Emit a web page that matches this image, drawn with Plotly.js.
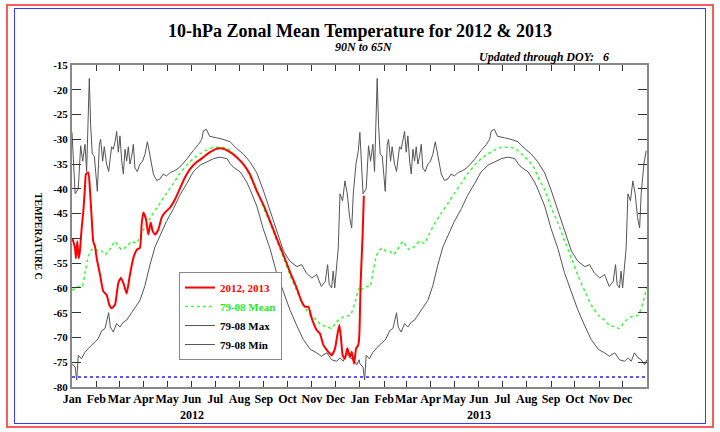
<!DOCTYPE html>
<html>
<head>
<meta charset="utf-8">
<script src="https://cdn.plot.ly/plotly-3.0.1.min.js"></script>
<style>
  html, body { margin: 0; padding: 0; background: #fff; }
  #wrap { position: relative; width: 720px; height: 432px; }
  #chart { position: absolute; left: 0; top: 0; width: 720px; height: 432px; }
  .frame { position: absolute; pointer-events: none; box-sizing: border-box; }
</style>
</head>
<body>
<div id="wrap">
  <div id="chart"></div>
  <div class="frame" style="left:6px; top:4px; width:708px; height:424px; border:2px solid #ff5a5a;"></div>
  <div class="frame" style="left:14px; top:8px; width:692px; height:416px; border:1px solid #3838ff;"></div>
</div>
<script>
// day index counted from 1 Jan 2012 (2012 is a leap year, so 1 Jan 2013 = 366)
var months = ['Jan', 'Feb', 'Mar', 'Apr', 'May', 'Jun', 'Jul', 'Aug', 'Sep', 'Oct', 'Nov', 'Dec'];
var monthStart2012 = [0, 31, 60, 91, 121, 152, 182, 213, 244, 274, 305, 335];
var monthStart2013 = [366, 397, 425, 456, 486, 517, 547, 578, 609, 639, 670, 700];
var yearLabels = ['2012', '2013'];
var yearLabelDay = [152, 517];
var yTickVals = [-80, -75, -70, -65, -60, -55, -50, -45, -40, -35, -30, -25, -20, -15];
var pscLine = -78;

// 1979-2008 climatology, by day of year
var maxDoy = [0, 4, 8, 11, 13.6, 16.5, 18.6, 22, 23.7, 25.8, 28.4, 32.2, 34.8, 36.4, 39, 41, 44, 46.6,
  50.4, 52.5, 54.7, 56.8, 58.9, 61, 63.2, 65.3, 67.4, 69.5, 71.6, 73.7, 75.9, 78, 80, 83, 86.4, 89.8,
  92.8, 95.8, 97.9, 100, 103.4, 107.6, 112, 116, 120, 125, 131, 137, 146, 154, 161, 165, 167, 171,
  175, 184, 192, 201, 209, 218, 226, 235, 243, 252, 260, 269, 277, 286, 292, 298, 305, 311, 317, 322,
  325, 327, 330, 332, 334, 336.5, 338.5, 340.7, 344, 347, 350, 353, 355.6, 357.6, 361, 364];
var maxVal = [-28.6, -41, -40, -31.3, -34.4, -31, -36.5, -17.7, -27, -33, -33.4, -40.5, -31, -30, -34.4, -31.5, -35, -36.5,
  -31.5, -32, -30.5, -28.4, -32.6, -29.3, -34.4, -37, -32, -34.4, -31.5, -35, -33.4, -31, -35.8, -36.5, -35, -34.4,
  -33, -30.5, -32.2, -34.4, -37, -38.3, -38, -37, -37.4, -36.7, -36.3, -35.6, -34, -32.3, -31, -30, -28.3, -28,
  -29.4, -29.7, -30, -30.5, -31.8, -33, -34.5, -36.8, -40.2, -44.5, -48.5, -52.6, -54.6, -55.7, -55.3, -57, -58, -57.3, -59.7, -58.7,
  -55.3, -59.3, -60, -56.6, -60, -54.6, -51.9, -41, -42.4, -38.4, -41, -45.8, -47.9, -41, -35, -32.3];

var meanDoy = [0, 8, 13, 16.5, 20.8, 25, 29, 33, 38, 42, 46.6, 50.4, 54.7, 58.9, 63.2, 69.5, 75.9, 82, 88.5,
  95, 103.4, 112, 120, 129, 137, 146, 154, 163, 171, 180, 188, 197, 205, 214, 222, 226, 235, 243, 252,
  260, 269, 277, 286, 294, 303, 311, 317, 324, 330, 336, 345, 354, 360, 365];
var meanVal = [-60.5, -59.7, -59.7, -57, -53.6, -52.3, -52, -52.6, -52.6, -53.3, -52.6, -51.6, -50.6, -51.6, -52.3, -51.6, -50.6, -51, -49,
  -47, -44.9, -42.9, -40.9, -38.9, -36.9, -35.2, -33.9, -32.9, -32.2, -31.6, -31.6, -31.8, -32.9, -34.2, -35.9, -37.5, -40.2, -43.7, -47,
  -50.4, -54, -57.4, -60.7, -63.4, -65.5, -66.5, -67.5, -67.8, -68.2, -66.9, -65.8, -65.5, -62.8, -60];

var minDoy = [0, 4, 6, 8, 12, 16.5, 20.8, 25, 29, 33, 38, 42, 46.6, 48.7, 52.5, 56.8, 61, 65.3, 69.5, 73.7,
  80, 86.4, 92.8, 99, 105.6, 112, 120, 129, 137, 146, 154, 163, 171, 180, 188, 197, 201, 205, 214, 222,
  226, 235, 243, 252, 260, 269, 277, 286, 294, 303, 311, 317, 324, 330, 336.5, 341, 345, 349, 353.6, 357.6, 362, 365];
var minVal = [-75.3, -76, -78.6, -73.6, -74.3, -73, -72.2, -71.5, -71, -70.3, -68.6, -68.2, -65, -67.9, -68.9, -67.2, -67.9, -66.9, -66.5, -65.5,
  -64.2, -62.5, -59.5, -55.4, -51.7, -49.3, -46.6, -44, -41.3, -38.9, -36.6, -35.2, -34.6, -33.9, -33.6, -33.9, -34.9, -35.6, -36.6, -38.6,
  -40, -43.5, -48, -52.2, -56.9, -61, -64.4, -67.7, -70.4, -72.4, -73.1, -73.8, -73.1, -74.5, -74.8, -74.1, -74.8, -73.1, -74.1, -74.5, -75.5, -74.5];

// 2012 and early 2013 observations
var obsDay = [0.4, 3.8, 5, 6.7, 8.5, 10, 12.3, 14.4, 16.5, 17.8, 20.7, 22.9, 25, 27, 29.2, 31.4, 35.6, 39.8, 44,
  47.4, 50.5, 54.7, 58.9, 62.3, 66.1, 69.5, 73.7, 77.9, 82.3, 86.4, 88.5, 90.6, 94, 97, 100, 102.5, 105.5,
  109.8, 114, 118, 124.6, 131, 137, 143.6, 150, 158.5, 167, 175.5, 184, 192.4, 201, 209.3, 217.8, 226,
  234.8, 243, 251.7, 260, 268.7, 277, 285.6, 292, 296.3, 300.5, 304.7, 311, 315.2, 319.5, 325.8, 330,
  334.4, 337.3, 339.9, 342, 344.1, 347, 350, 353.6, 355.6, 358.6, 361.2, 364, 365.3, 367, 369.5, 371];
var obsVal = [-50, -51.9, -54, -50.6, -54, -52.6, -47.9, -44.5, -39.7, -37, -36.7, -40.4, -45.8, -50.6, -51.6, -54, -57.3, -60.7, -61.4,
  -63.4, -64.1, -63.4, -59, -58, -59.4, -61.1, -57.3, -54, -52.3, -51.9, -47.2, -44.8, -46.1, -49.2, -46.8, -48.5, -49.2,
  -48.2, -45.8, -44.8, -43.8, -42.1, -40, -37.7, -36, -34.6, -33.6, -32.6, -31.9, -31.9, -32.6, -33.6, -35, -37,
  -40.4, -43.1, -46.5, -49.9, -53.3, -56.7, -60, -62.8, -63.8, -63.8, -66.1, -68.5, -69.2, -71.5, -72.9, -73.6,
  -72.2, -69.5, -67.5, -70.2, -73.6, -74.3, -72.2, -73.9, -72.9, -75.3, -72.2, -71.5, -69.5, -58.7, -49.2, -41.4];

// repeat a climatology over both years
function twoYears(doy, val) {
  var x = doy.slice(), y = val.slice();
  doy.forEach(function (d, i) { x.push(d + 366); y.push(val[i]); });
  return { x: x, y: y };
}

var serif = 'Liberation Serif, Times New Roman, serif';
var mx = twoYears(maxDoy, maxVal);
var mn = twoYears(minDoy, minVal);
var me = twoYears(meanDoy, meanVal);

var data = [
  { x: mn.x, y: mn.y, mode: 'lines', name: '79-08 Min', legendrank: 4,
    line: { color: '#555', width: 1 } },
  { x: mx.x, y: mx.y, mode: 'lines', name: '79-08 Max', legendrank: 3,
    line: { color: '#555', width: 1 } },
  { x: me.x, y: me.y, mode: 'lines', name: '<span style="color:#22ee22">79-08 Mean</span>', legendrank: 2,
    line: { color: '#33ff33', width: 1.5, dash: 'dot', shape: 'spline', smoothing: 0.4 } },
  { x: obsDay, y: obsVal, mode: 'lines', name: '<span style="color:#ff0000">2012, 2013</span>', legendrank: 1,
    line: { color: '#ff0000', width: 2, shape: 'spline', smoothing: 0.5 } }
];

var tickDays = monthStart2012.concat(monthStart2013);
var tickText = months.concat(months);

var annotations = [
  { text: '90N to 65N', xref: 'paper', yref: 'paper', x: 0.508, y: 1.056, yanchor: 'middle', showarrow: false,
    font: { family: serif, size: 12, weight: 'bold', style: 'italic', color: '#000' } },
  { text: 'Updated through DOY:\u00a0\u00a0\u00a06', xref: 'paper', yref: 'paper', x: 0.937, y: 1.025,
    xanchor: 'right', yanchor: 'middle', showarrow: false,
    font: { family: serif, size: 12, weight: 'bold', style: 'italic', color: '#000' } },
  { text: 'TEMPERATURE C', xref: 'paper', yref: 'paper', x: -0.059, y: 0.469, textangle: 90,
    xanchor: 'center', yanchor: 'middle',
    showarrow: false, font: { family: serif, size: 10, weight: 'bold', color: '#000' } }
];
yearLabels.forEach(function (t, i) {
  annotations.push({ text: t, xref: 'x', yref: 'paper', x: yearLabelDay[i], y: -0.086,
    yanchor: 'middle', showarrow: false,
    font: { family: serif, size: 12, weight: 'bold', color: '#000' } });
});

var layout = {
  width: 720,
  height: 432,
  margin: { l: 72, r: 73, t: 65, b: 45 },
  paper_bgcolor: '#fff',
  plot_bgcolor: '#fff',
  font: { family: serif, color: '#000' },
  title: {
    text: '10-hPa Zonal Mean Temperature for 2012 & 2013',
    font: { family: serif, size: 18, weight: 'bold', color: '#000' },
    x: 0.5, xref: 'container', y: 0.93, yref: 'container', yanchor: 'middle'
  },
  xaxis: {
    range: [0, 731], tickvals: tickDays, ticktext: tickText, tickangle: 0,
    ticks: 'inside', ticklen: 6, tickcolor: '#333', tickwidth: 1,
    showline: true, linecolor: '#888', linewidth: 2, mirror: 'ticks',
    showgrid: false, zeroline: false,
    tickfont: { family: serif, size: 12, weight: 'bold', color: '#000' }
  },
  yaxis: {
    range: [-80, -15], tickvals: yTickVals, ticktext: yTickVals.map(String),
    ticks: 'inside', ticklen: 9, tickcolor: '#333', tickwidth: 1,
    showline: true, linecolor: '#888', linewidth: 2, mirror: 'ticks',
    showgrid: false, zeroline: false,
    tickfont: { family: serif, size: 11, weight: 'bold', color: '#000' }
  },
  shapes: [
    { type: 'line', xref: 'paper', yref: 'y', x0: 0, x1: 1, y0: pscLine, y1: pscLine,
      line: { color: '#2020ff', width: 1.5, dash: 'dot' } }
  ],
  annotations: annotations,
  showlegend: true,
  legend: {
    x: 0.186, y: 0.357, xanchor: 'left', yanchor: 'top',
    bgcolor: '#fff', bordercolor: '#888', borderwidth: 1,
    font: { family: serif, size: 11, weight: 'bold', color: '#000' },
    tracegroupgap: 0, itemwidth: 30
  }
};

Plotly.newPlot('chart', data, layout, { staticPlot: true });
</script>
</body>
</html>
